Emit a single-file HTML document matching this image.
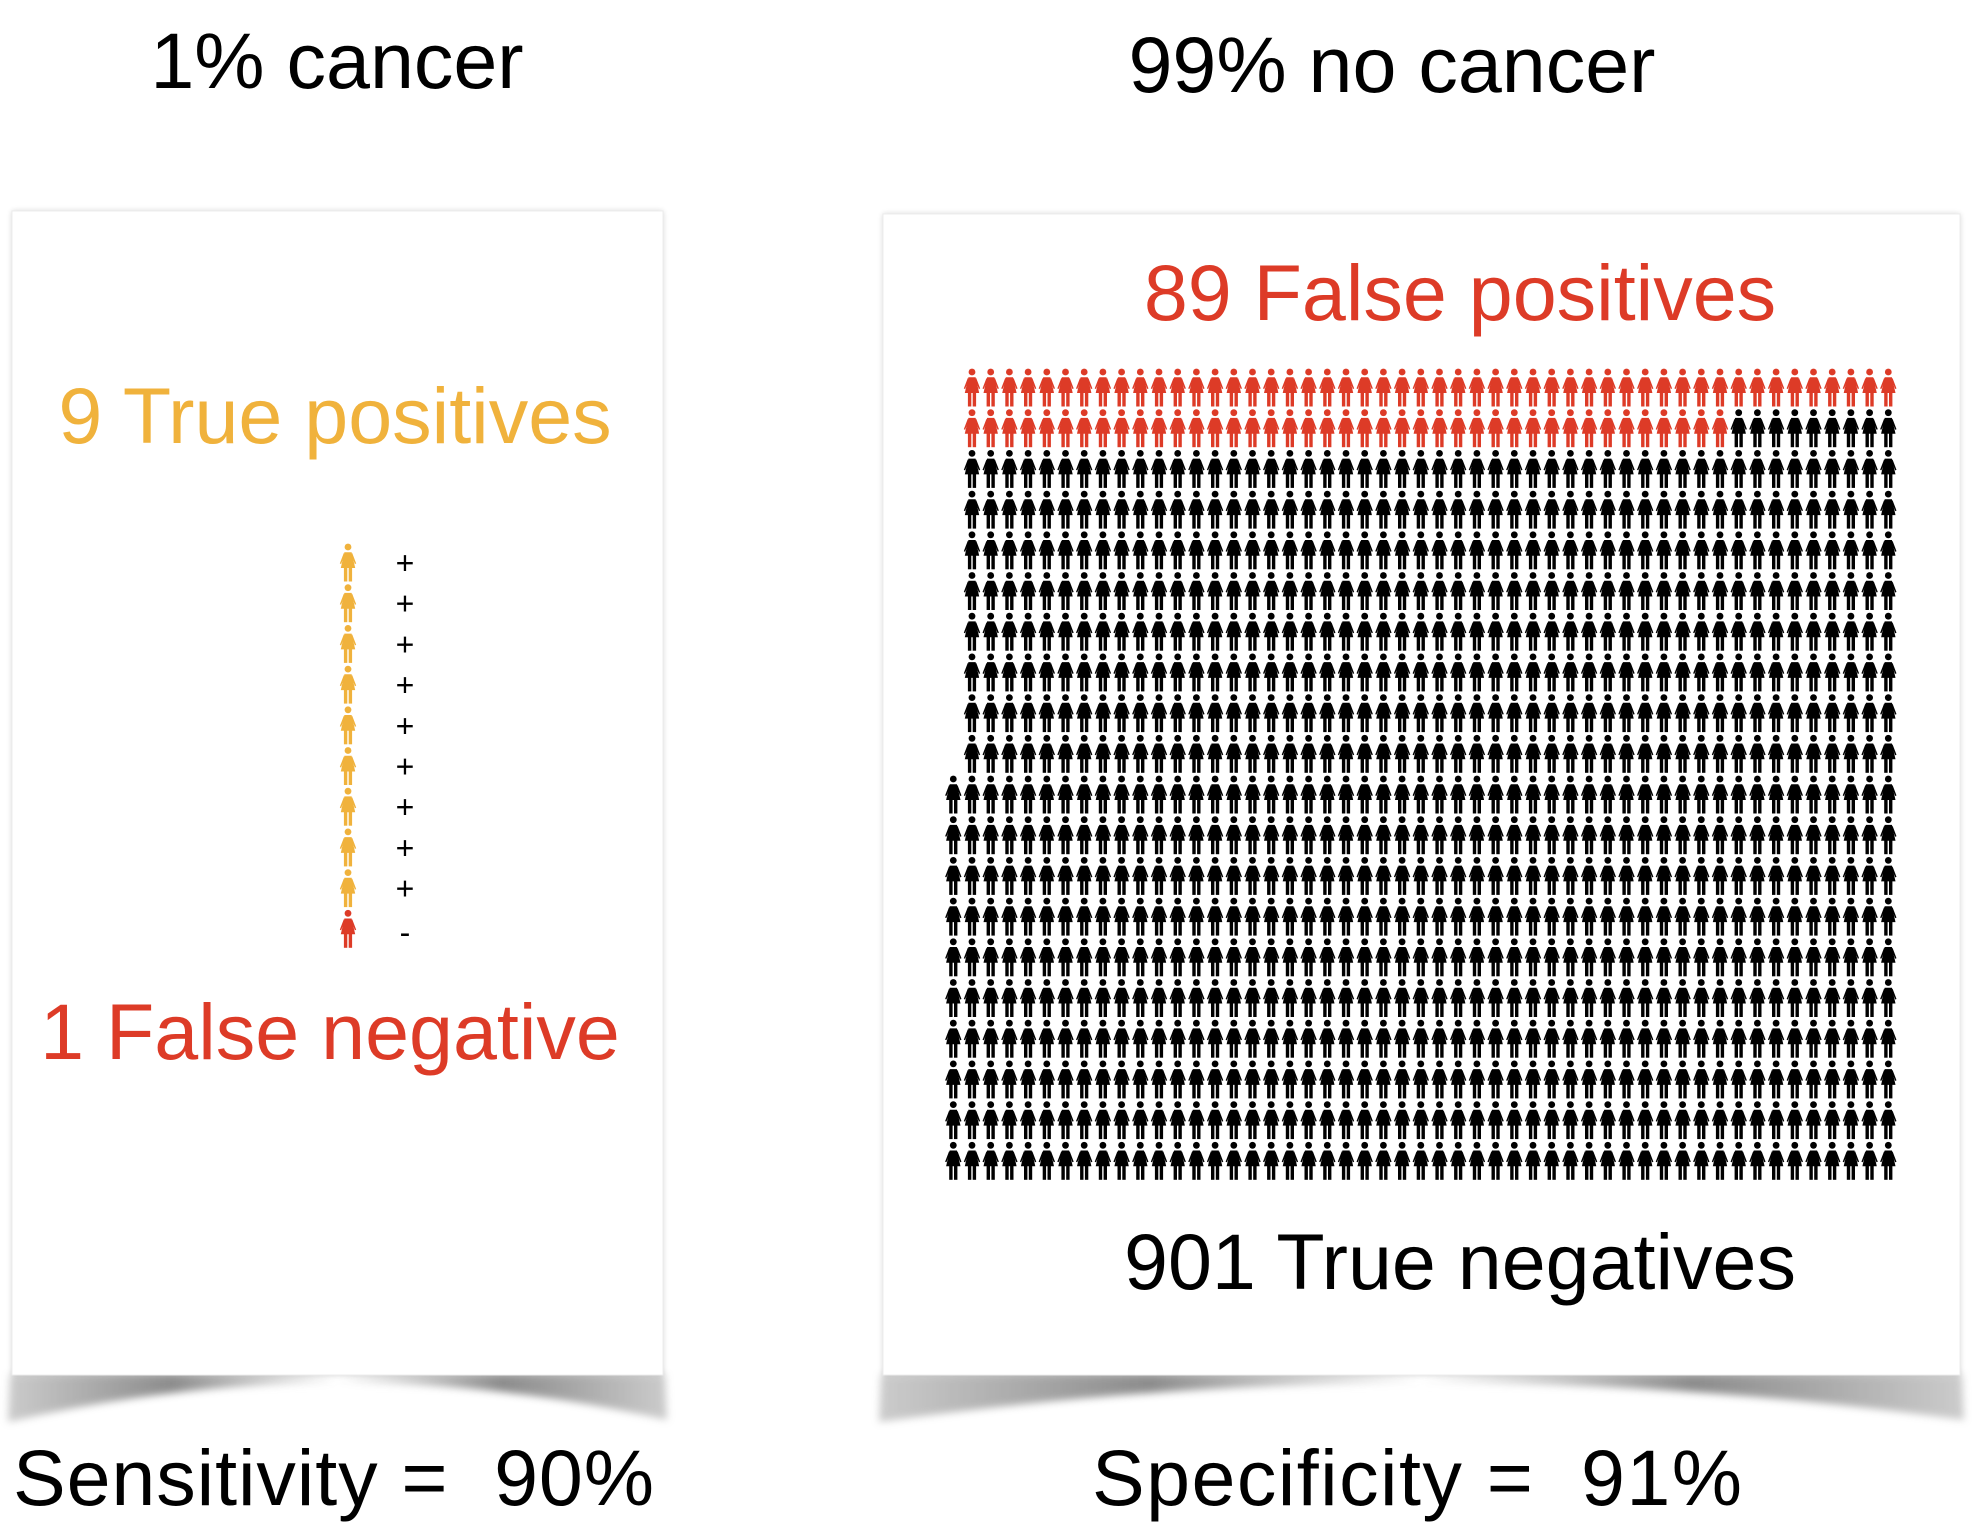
<!DOCTYPE html>
<html><head><meta charset="utf-8"><style>
body{margin:0;background:#fff;}
svg{display:block;font-family:"Liberation Sans",sans-serif;}
</style></head><body>
<svg id="chart" width="1972" height="1532" viewBox="0 0 1972 1532">
<defs>
<filter id="blur" x="-10%" y="-50%" width="120%" height="200%"><feGaussianBlur stdDeviation="4"/></filter>
<filter id="pshadow" x="-5%" y="-5%" width="110%" height="110%"><feGaussianBlur stdDeviation="3"/></filter>
<linearGradient id="curl" x1="0" x2="1" y1="0" y2="0">
<stop offset="0" stop-color="#bbb"/><stop offset="0.25" stop-color="#666"/><stop offset="0.5" stop-color="#fff"/><stop offset="0.75" stop-color="#666"/><stop offset="1" stop-color="#bbb"/>
</linearGradient>
<linearGradient id="fade" x1="0" x2="0" y1="0" y2="1">
<stop offset="0" stop-color="#fff" stop-opacity="0"/><stop offset="1" stop-color="#fff" stop-opacity="0.7"/>
</linearGradient>
<g id="fig">
<circle cx="0" cy="0" r="3.4"/>
<path d="M-3.6,5.2 L3.6,5.2 L7.2,21 L-7.2,21 Z"/>
<path d="M-4.2,6 L-8.2,16.5 L-6.9,17 L-3.2,8 Z M4.2,6 L8.2,16.5 L6.9,17 L3.2,8 Z"/>
<rect x="-4.1" y="20" width="3.4" height="14.5"/>
<rect x="0.7" y="20" width="3.4" height="14.5"/>
</g>
</defs>
<text x="337" y="88" font-size="79" text-anchor="middle">1% cancer</text>
<text x="1392" y="92" font-size="79" text-anchor="middle">99% no cancer</text>

<g>
<path d="M10,1374 L665,1374 L667,1420 Q337,1345 8,1422 Z" fill="url(#curl)" opacity="0.75" filter="url(#blur)"/>
<rect x="12" y="211" width="651" height="1164" fill="#000" opacity="0.18" filter="url(#pshadow)"/>
<rect x="12" y="211" width="651" height="1164" fill="#fff" stroke="#ececec" stroke-width="1"/>
</g>
<g>
<path d="M881,1374 L1962,1374 L1964,1420 Q1420,1345 879,1422 Z" fill="url(#curl)" opacity="0.75" filter="url(#blur)"/>
<rect x="883" y="214" width="1077" height="1161" fill="#000" opacity="0.18" filter="url(#pshadow)"/>
<rect x="883" y="214" width="1077" height="1161" fill="#fff" stroke="#ececec" stroke-width="1"/>
</g>

<text x="335" y="443" font-size="79" fill="#F0B23C" text-anchor="middle">9 True positives</text>
<text x="330" y="1059" font-size="79" fill="#DD3B27" text-anchor="middle">1 False negative</text>
<text x="1460" y="320" font-size="79" fill="#DD3B27" text-anchor="middle">89 False positives</text>
<text x="1460" y="1289" font-size="79" fill="#000" text-anchor="middle">901 True negatives</text>
<text x="13" y="1505" font-size="79" textLength="641" lengthAdjust="spacing">Sensitivity =&#160;&#160;90%</text>
<text x="1092" y="1505" font-size="79" textLength="650" lengthAdjust="spacing">Specificity =&#160;&#160;91%</text>

<g id="leftFigs"></g>
<g id="rightFigs"></g>
</svg>
<script>
// data
const cancerOutcomes = ['+','+','+','+','+','+','+','+','+','-'];
const gridRowCounts = [50,50,50,50,50,50,50,50,50,50,51,51,51,51,51,51,51,51,51,51];
const falsePositivesShown = 91;

const NS='http://www.w3.org/2000/svg';
const lg=document.getElementById('leftFigs');
cancerOutcomes.forEach((o,i)=>{
  const y=547+i*40.7;
  const u=document.createElementNS(NS,'use');
  u.setAttribute('href','#fig');
  u.setAttribute('transform','translate(348,'+y+')');
  u.setAttribute('fill',o==='+'?'#F0B23C':'#DD3B27');
  
  
  lg.appendChild(u);
  const t=document.createElementNS(NS,'text');
  t.setAttribute('x',405);t.setAttribute('y',y+(o==='+'?27:30));
  t.setAttribute('font-size',32);t.setAttribute('text-anchor','middle');
  t.textContent=o;
  
  
  lg.appendChild(t);
});
const rg=document.getElementById('rightFigs');
let k=0;
gridRowCounts.forEach((n,r)=>{
  const y=372+r*40.7;
  const x0=972-(n-50)*18.7;
  for(let c=0;c<n;c++){
    const u=document.createElementNS(NS,'use');
    u.setAttribute('href','#fig');
    u.setAttribute('transform','translate('+(x0+c*18.7).toFixed(1)+','+y.toFixed(1)+')');
    const fp=k<falsePositivesShown;
    u.setAttribute('fill',fp?'#DD3B27':'#000');
    
    
    rg.appendChild(u);
    k++;
  }
});
</script>
</body></html>
